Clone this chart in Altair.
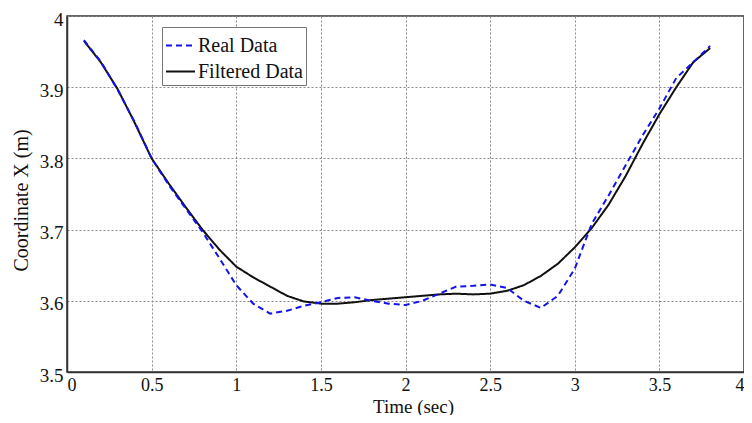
import altair as alt
import pandas as pd

time_real = [0.1, 0.2, 0.3, 0.4, 0.5, 0.6, 0.7, 0.8, 0.9, 1.0, 1.1, 1.2, 1.3, 1.4, 1.5,
             1.6, 1.7, 1.8, 1.9, 2.0, 2.1, 2.2, 2.3, 2.4, 2.5, 2.6, 2.7, 2.8, 2.9, 3.0,
             3.1, 3.2, 3.3, 3.4, 3.5, 3.6, 3.7, 3.8]
real_x = [3.966, 3.936, 3.896, 3.851, 3.800, 3.763, 3.730, 3.697, 3.660, 3.622,
          3.596, 3.582, 3.586, 3.593, 3.598, 3.604, 3.605, 3.600, 3.596, 3.594,
          3.600, 3.610, 3.620, 3.621, 3.623, 3.618, 3.600, 3.590, 3.607, 3.645,
          3.708, 3.748, 3.790, 3.832, 3.870, 3.913, 3.935, 3.958]

time_filt = [0.1, 0.2, 0.3, 0.4, 0.5, 0.6, 0.7, 0.8, 0.9, 1.0, 1.1, 1.2, 1.3, 1.4, 1.5,
             1.6, 1.7, 1.8, 1.9, 2.0, 2.1, 2.2, 2.3, 2.4, 2.5, 2.6, 2.7, 2.8, 2.9, 3.0,
             3.1, 3.2, 3.3, 3.4, 3.5, 3.6, 3.7, 3.8]
filt_x = [3.965, 3.935, 3.897, 3.850, 3.800, 3.765, 3.732, 3.700, 3.672, 3.648,
          3.633, 3.620, 3.607, 3.599, 3.596, 3.596, 3.598, 3.601, 3.603, 3.605,
          3.607, 3.609, 3.610, 3.609, 3.610, 3.614, 3.622, 3.635, 3.652, 3.675,
          3.702, 3.735, 3.775, 3.820, 3.862, 3.900, 3.935, 3.955]

x_ticks = [0, 0.5, 1, 1.5, 2, 2.5, 3, 3.5, 4]
y_ticks = [3.5, 3.6, 3.7, 3.8, 3.9, 4]

series_names = ["Real Data", "Filtered Data"]
series_colors = ["#1414e6", "#111111"]

df = pd.concat([
    pd.DataFrame({"t": time_filt, "v": filt_x, "series": series_names[1]}),
    pd.DataFrame({"t": time_real, "v": real_x, "series": series_names[0]}),
], ignore_index=True)

font = "Liberation Serif"
legend = alt.Legend(title=None, orient="none", legendX=95, legendY=11)

chart = alt.Chart(df).mark_line(strokeWidth=2).encode(
    x=alt.X("t:Q", title="Time (sec)",
            scale=alt.Scale(domain=[0, 4], nice=False),
            axis=alt.Axis(values=x_ticks, format="~g", labelPadding=4, labelFontSize=18,
                          titleFontSize=19,
                          titleY=40, titleBaseline="alphabetic", titleX=346)),
    y=alt.Y("v:Q", title="Coordinate X (m)",
            scale=alt.Scale(domain=[3.5, 4], nice=False, zero=False),
            axis=alt.Axis(values=y_ticks, format="~g", labelPadding=4, labelOffset=3,
                          titleX=-46, titleY=184, titleBaseline="middle")),
    color=alt.Color("series:N", scale=alt.Scale(domain=series_names, range=series_colors),
                    legend=legend),
    strokeDash=alt.StrokeDash("series:N",
                              scale=alt.Scale(domain=series_names, range=[[6, 4], [1, 0]]),
                              legend=legend),
    detail="series:N",
).properties(
    width=677, height=356,
    autosize=alt.AutoSizeParams(type="none"),
    padding={"left": 59, "top": 8, "right": 0, "bottom": 43},
)

chart = chart.configure_view(stroke="#333333", strokeWidth=1.5).configure_axis(
    labelFont=font, titleFont=font, labelFontSize=19, titleFontSize=20,
    titleFontWeight="normal", labelColor="#111", titleColor="#111",
    domainColor="#333333", domainWidth=1.5, ticks=False,
    grid=True, gridColor="#888888", gridDash=[2, 2], gridWidth=1, gridOpacity=1,
).configure_legend(
    labelFont=font, labelFontSize=20, labelColor="#111", symbolType="stroke",
    symbolSize=841, symbolStrokeWidth=2, strokeColor="#777777", fillColor="white",
    padding=3, rowPadding=0, labelOffset=2,
)

chart.save("out.html", embed_options={"renderer": "svg", "actions": False})
